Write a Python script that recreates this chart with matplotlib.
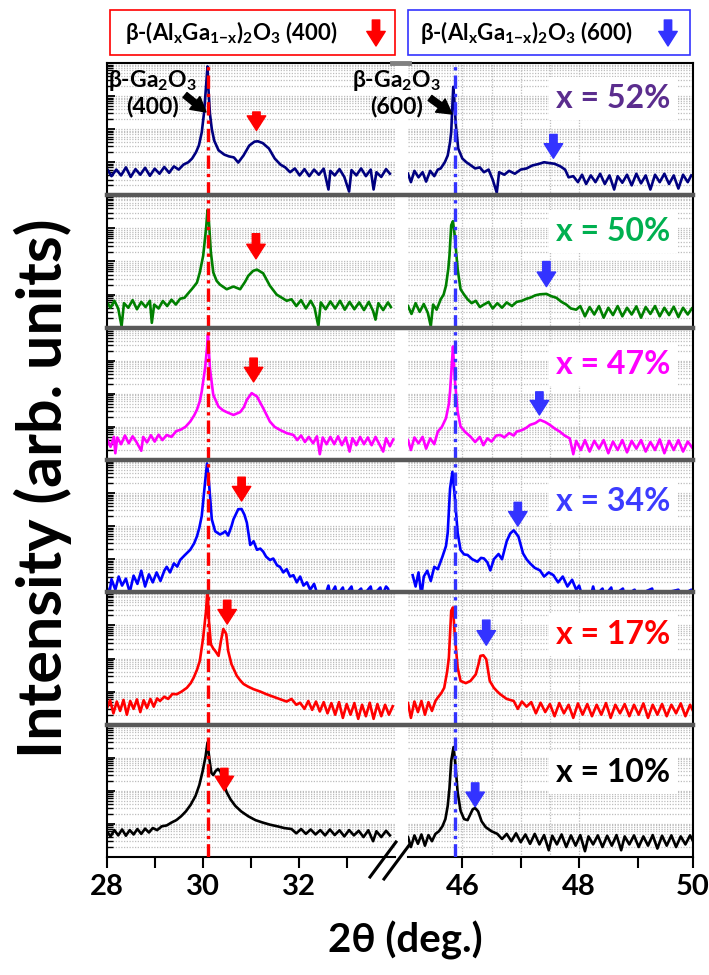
import matplotlib
matplotlib.use("Agg")
import numpy as np
import matplotlib.pyplot as plt
from matplotlib.lines import Line2D
from matplotlib.patches import Rectangle, FancyArrowPatch
from matplotlib.ticker import LogLocator, NullFormatter

plt.rcParams['font.family'] = ['Lato', 'DejaVu Sans']
plt.rcParams['font.weight'] = 'bold'
plt.rcParams['mathtext.default'] = 'regular'

# ---- data: (2theta, counts) ----
pts_52_400 = [(28.00, 6.5), (28.10, 3.8), (28.20, 6.0), (28.30, 4.0), (28.40, 7.0), (28.50, 3.6), (28.60, 6.2),
              (28.70, 4.2), (28.80, 6.8), (28.90, 3.9), (29.00, 6.4), (29.10, 4.5), (29.20, 7.2), (29.30, 4.8),
              (29.40, 7.5), (29.50, 6.0), (29.60, 8.5), (29.70, 10), (29.78, 13), (29.86, 20), (29.92, 32),
              (29.98, 80), (30.03, 330), (30.07, 2000), (30.10, 7900), (30.12, 1600), (30.15, 300), (30.19, 100),
              (30.24, 45), (30.33, 23), (30.45, 17), (30.55, 15), (30.65, 14), (30.74, 9.8), (30.85, 16),
              (30.97, 32), (31.08, 42), (31.15, 43), (31.25, 38), (31.38, 26), (31.50, 13), (31.62, 8.5),
              (31.72, 7.0), (31.82, 5.0), (31.92, 6.5), (32.02, 4.0), (32.12, 6.2), (32.22, 3.8), (32.32, 6.0),
              (32.42, 4.2), (32.52, 6.4), (32.62, 1.5), (32.66, 5.5), (32.75, 4.0), (32.85, 6.2), (32.95, 3.6),
              (33.05, 1.3), (33.10, 5.8), (33.20, 4.0), (33.30, 6.5), (33.40, 3.8), (33.50, 6.0), (33.56, 1.5),
              (33.62, 5.0), (33.72, 3.6), (33.82, 6.2), (33.90, 4.5)]
pts_52_600 = [(45.07, 4.5), (45.12, 2.5), (45.18, 5.5), (45.25, 3.5), (45.32, 5.0), (45.38, 2.6), (45.45, 5.5),
              (45.52, 3.8), (45.58, 6.0), (45.63, 6.5), (45.70, 10), (45.75, 16), (45.79, 40), (45.81, 83),
              (45.83, 520), (45.845, 1900), (45.86, 900), (45.89, 130), (45.93, 26), (46.00, 13), (46.07, 10),
              (46.14, 8.2), (46.22, 6.5), (46.30, 7.0), (46.37, 5.0), (46.45, 6.0), (46.52, 3.0), (46.59, 1.2),
              (46.63, 5.0), (46.72, 4.2), (46.80, 5.5), (46.90, 4.5), (47.00, 6.0), (47.10, 6.5), (47.20, 8.0),
              (47.30, 8.8), (47.40, 10), (47.48, 9.5), (47.58, 9.0), (47.68, 7.5), (47.76, 6.0), (47.82, 3.5),
              (47.90, 3.8), (47.98, 2.5), (48.05, 4.2), (48.12, 2.2), (48.20, 4.0), (48.28, 2.5), (48.36, 4.5),
              (48.44, 2.2), (48.52, 4.0), (48.60, 1.5), (48.66, 3.8), (48.74, 2.4), (48.82, 4.2), (48.90, 2.0),
              (48.98, 4.5), (49.06, 2.3), (49.14, 4.0), (49.22, 1.5), (49.30, 4.2), (49.38, 2.5), (49.46, 4.5),
              (49.54, 2.2), (49.62, 4.0), (49.70, 1.6), (49.78, 4.2), (49.86, 2.5), (49.92, 4.0)]

pts_50_400 = [(28.00, 6.0), (28.08, 4.0), (28.16, 6.5), (28.24, 3.8), (28.31, 1.1), (28.36, 5.5), (28.45, 4.0),
              (28.54, 6.8), (28.63, 3.6), (28.72, 6.0), (28.81, 4.2), (28.90, 6.5), (28.94, 1.4), (28.99, 5.0),
              (29.08, 3.8), (29.17, 6.4), (29.26, 4.5), (29.35, 7.0), (29.44, 5.0), (29.53, 7.5), (29.62, 8.0),
              (29.70, 11), (29.78, 15), (29.88, 23), (29.94, 47), (30.01, 150), (30.07, 980), (30.10, 3600),
              (30.13, 1580), (30.17, 190), (30.22, 47), (30.29, 26), (30.36, 20), (30.50, 14.5), (30.64, 17.5),
              (30.78, 14.5), (30.88, 24), (30.95, 37), (31.05, 52), (31.13, 57), (31.26, 44), (31.40, 18.5),
              (31.54, 10), (31.65, 8.0), (31.75, 6.5), (31.85, 7.2), (31.95, 4.5), (32.05, 6.8), (32.15, 3.8),
              (32.25, 6.5), (32.33, 4.0), (32.41, 1.1), (32.46, 5.8), (32.56, 3.6), (32.66, 6.2), (32.76, 3.8),
              (32.86, 6.5), (32.96, 3.5), (33.06, 6.0), (33.16, 3.6), (33.26, 5.8), (33.36, 3.4), (33.46, 6.0),
              (33.55, 3.2), (33.60, 1.75), (33.66, 5.5), (33.76, 3.4), (33.86, 5.8), (33.92, 4.2)]
pts_50_600 = [(45.07, 4.5), (45.13, 2.6), (45.20, 5.5), (45.27, 3.0), (45.34, 5.2), (45.41, 2.8), (45.46, 1.1),
              (45.50, 5.0), (45.56, 3.5), (45.63, 7.2), (45.68, 10), (45.72, 18.5), (45.76, 60), (45.78, 150),
              (45.81, 1250), (45.84, 1650), (45.87, 610), (45.92, 59), (45.97, 14.5), (46.03, 10), (46.09, 7.2),
              (46.16, 5.5), (46.23, 6.5), (46.30, 4.2), (46.37, 5.0), (46.45, 6.0), (46.52, 3.8), (46.60, 5.5),
              (46.68, 4.0), (46.76, 5.8), (46.85, 4.5), (46.93, 6.0), (47.02, 6.5), (47.10, 7.5), (47.16, 8.0),
              (47.25, 9.5), (47.33, 10.2), (47.44, 10.5), (47.52, 9.0), (47.61, 8.0), (47.70, 6.0), (47.78, 5.0),
              (47.86, 3.8), (47.95, 3.5), (48.02, 4.5), (48.10, 2.2), (48.18, 4.2), (48.26, 2.5), (48.34, 4.5),
              (48.42, 2.0), (48.50, 4.0), (48.58, 2.4), (48.66, 4.5), (48.74, 2.2), (48.82, 4.0), (48.90, 2.5),
              (48.98, 4.4), (49.06, 2.0), (49.14, 4.2), (49.22, 2.6), (49.30, 4.5), (49.38, 2.2), (49.46, 4.0),
              (49.54, 2.4), (49.62, 4.3), (49.70, 2.1), (49.78, 4.0), (49.86, 2.5), (49.93, 3.8)]

pts_47_400 = [(28.00, 4.5), (28.08, 2.5), (28.15, 5.0), (28.18, 1.6), (28.22, 4.8), (28.30, 3.0), (28.38, 5.5),
              (28.46, 3.2), (28.54, 5.2), (28.62, 3.5), (28.72, 1.9), (28.76, 5.0), (28.84, 3.4), (28.92, 5.6),
              (29.00, 3.6), (29.08, 5.8), (29.16, 4.0), (29.25, 5.7), (29.35, 5.0), (29.45, 7.5), (29.53, 8.1),
              (29.64, 10), (29.74, 14.5), (29.82, 22), (29.88, 33), (29.94, 60), (29.98, 118), (30.05, 600),
              (30.09, 2450), (30.11, 6200), (30.15, 600), (30.22, 93), (30.33, 41), (30.42, 32), (30.50, 28),
              (30.64, 23), (30.78, 28), (30.86, 40), (30.92, 66), (31.02, 105), (31.13, 83), (31.26, 37),
              (31.40, 14.5), (31.50, 10), (31.61, 8.1), (31.75, 6.5), (31.89, 5.7), (31.97, 4.0), (32.05, 5.5),
              (32.13, 3.5), (32.21, 5.0), (32.30, 3.2), (32.38, 5.2), (32.44, 1.5), (32.50, 4.8), (32.58, 3.0),
              (32.66, 5.0), (32.74, 3.0), (32.82, 5.2), (32.90, 2.8), (32.98, 4.8), (33.06, 1.8), (33.12, 4.6),
              (33.20, 2.8), (33.28, 5.0), (33.36, 3.0), (33.44, 4.8), (33.52, 2.8), (33.60, 5.0), (33.68, 3.0),
              (33.76, 1.8), (33.82, 4.6), (33.90, 2.6), (33.97, 4.2)]
pts_47_600 = [(45.07, 4.0), (45.12, 2.0), (45.18, 4.8), (45.25, 3.2), (45.32, 5.0), (45.38, 2.2), (45.45, 4.5),
              (45.52, 3.0), (45.58, 7.2), (45.65, 10), (45.72, 18.3), (45.77, 50), (45.79, 118), (45.82, 760),
              (45.84, 2700), (45.87, 300), (45.92, 29), (45.97, 10.3), (46.05, 7.0), (46.14, 5.1), (46.22, 3.5),
              (46.30, 5.0), (46.36, 2.8), (46.43, 4.5), (46.50, 3.6), (46.58, 5.5), (46.65, 5.7), (46.72, 4.8),
              (46.80, 6.5), (46.88, 5.5), (46.93, 7.2), (47.02, 8.0), (47.10, 9.5), (47.16, 11.5), (47.25, 13),
              (47.33, 16.3), (47.42, 14), (47.50, 11.5), (47.58, 9.0), (47.67, 7.2), (47.75, 5.5), (47.84, 4.5),
              (47.90, 1.5), (47.95, 3.8), (48.03, 2.0), (48.10, 4.0), (48.18, 1.8), (48.26, 3.8), (48.34, 2.2),
              (48.42, 4.0), (48.50, 1.6), (48.58, 3.6), (48.66, 2.0), (48.74, 4.0), (48.82, 1.7), (48.90, 3.8),
              (48.98, 2.2), (49.06, 4.0), (49.14, 1.8), (49.22, 3.5), (49.30, 2.0), (49.38, 4.2), (49.46, 1.6),
              (49.54, 3.8), (49.62, 2.0), (49.70, 4.0), (49.78, 1.8), (49.86, 3.6), (49.95, 2.2)]

pts_34_400 = [(28.00, 1.5), (28.05, 0.8), (28.10, 2.5), (28.18, 1.2), (28.25, 3.0), (28.32, 1.6), (28.40, 2.6),
              (28.48, 1.0), (28.56, 3.2), (28.64, 1.8), (28.72, 4.5), (28.80, 1.5), (28.88, 3.5), (28.96, 2.0),
              (29.04, 4.0), (29.12, 2.2), (29.20, 4.5), (29.25, 5.9), (29.32, 4.0), (29.40, 7.5), (29.47, 6.0),
              (29.53, 9.5), (29.62, 13), (29.74, 19.3), (29.82, 30), (29.88, 49), (29.93, 90), (29.98, 203),
              (30.05, 2150), (30.09, 7900), (30.13, 2150), (30.19, 160), (30.26, 70), (30.36, 56), (30.42, 62),
              (30.47, 70), (30.53, 52), (30.60, 100), (30.64, 160), (30.74, 325), (30.81, 330), (30.87, 220),
              (30.92, 127), (30.99, 27), (31.03, 31), (31.06, 35), (31.13, 19.3), (31.20, 21), (31.26, 17),
              (31.32, 12), (31.40, 9.5), (31.47, 10.5), (31.55, 6.5), (31.61, 5.9), (31.68, 4.0), (31.75, 5.0),
              (31.82, 3.0), (31.89, 3.3), (31.96, 2.0), (32.03, 3.0), (32.10, 1.6), (32.17, 2.0), (32.24, 1.2),
              (32.32, 1.8), (32.40, 0.8), (32.55, 0.8), (32.62, 1.6), (32.66, 0.8), (32.76, 1.5), (32.80, 0.8),
              (32.92, 1.4), (32.96, 0.8), (33.10, 1.5), (33.14, 0.8), (33.30, 1.3), (33.34, 0.8), (33.50, 1.5),
              (33.54, 0.8), (33.70, 1.4), (33.74, 0.8), (33.82, 1.5), (33.86, 1.3), (33.90, 0.8)]
pts_34_600 = [(45.15, 3.3), (45.20, 1.5), (45.25, 4.0), (45.30, 0.8), (45.34, 3.0), (45.40, 4.5), (45.46, 2.2),
              (45.52, 5.9), (45.58, 5.0), (45.66, 12), (45.72, 25), (45.75, 63), (45.79, 1350), (45.83, 4400),
              (45.87, 840), (45.92, 63), (45.97, 19), (46.03, 14), (46.09, 13.5), (46.17, 10), (46.26, 8.4),
              (46.32, 11), (46.37, 10.6), (46.43, 8.0), (46.48, 4.6), (46.54, 10), (46.62, 14.4), (46.68, 10),
              (46.76, 35), (46.82, 60), (46.88, 75), (46.96, 49), (47.04, 15), (47.10, 10), (47.16, 7.5),
              (47.24, 5.5), (47.33, 4.6), (47.40, 3.0), (47.48, 4.0), (47.56, 3.3), (47.64, 2.0), (47.72, 3.0),
              (47.80, 1.5), (47.88, 2.4), (47.95, 1.2), (48.00, 1.6), (48.05, 0.8), (48.20, 0.8), (48.24, 1.5),
              (48.28, 0.8), (48.40, 1.3), (48.44, 0.8), (48.55, 1.4), (48.58, 0.8), (48.75, 1.3), (48.78, 0.8),
              (48.95, 1.2), (48.98, 0.8), (49.25, 1.3), (49.28, 0.8), (49.70, 1.2), (49.74, 0.8), (49.92, 1.2),
              (49.95, 0.8)]

pts_17_400 = [(28.00, 3.0), (28.07, 5.5), (28.14, 2.2), (28.21, 5.0), (28.28, 2.6), (28.35, 5.6), (28.42, 2.0),
              (28.49, 5.2), (28.56, 3.0), (28.63, 5.8), (28.70, 2.4), (28.77, 5.5), (28.84, 3.2), (28.91, 6.0),
              (28.98, 3.5), (29.05, 6.2), (29.11, 5.2), (29.20, 7.0), (29.28, 6.0), (29.37, 8.5), (29.46, 8.3),
              (29.56, 10), (29.67, 13), (29.75, 18), (29.81, 26), (29.88, 45), (29.94, 85), (30.01, 430),
              (30.07, 2800), (30.10, 14000), (30.13, 1400), (30.17, 270), (30.22, 200), (30.26, 170), (30.33, 120),
              (30.38, 340), (30.43, 780), (30.49, 550), (30.53, 170), (30.60, 67), (30.71, 30), (30.78, 22),
              (30.85, 17), (30.95, 14), (31.06, 11.8), (31.20, 10), (31.33, 8.3), (31.47, 7.0), (31.61, 5.9),
              (31.75, 5.0), (31.85, 6.0), (31.95, 4.0), (32.03, 4.6), (32.12, 3.0), (32.20, 5.2), (32.28, 2.8),
              (32.36, 5.0), (32.44, 2.5), (32.52, 4.8), (32.60, 2.2), (32.68, 4.5), (32.76, 2.0), (32.84, 4.8),
              (32.92, 1.6), (33.00, 4.2), (33.08, 2.0), (33.16, 4.5), (33.24, 1.5), (33.32, 4.0), (33.40, 1.8),
              (33.48, 4.6), (33.56, 1.5), (33.64, 4.2), (33.72, 1.8), (33.80, 4.0), (33.88, 2.0), (33.96, 3.6)]
pts_17_600 = [(45.07, 4.5), (45.12, 1.6), (45.18, 5.0), (45.24, 2.4), (45.30, 5.2), (45.36, 2.0), (45.42, 4.8),
              (45.48, 2.6), (45.54, 5.2), (45.58, 6.6), (45.64, 9.0), (45.69, 13), (45.74, 40), (45.77, 107),
              (45.81, 2800), (45.84, 3500), (45.87, 550), (45.92, 53), (45.97, 21), (46.06, 18), (46.14, 21),
              (46.23, 33), (46.28, 70), (46.31, 120), (46.36, 125), (46.41, 95), (46.47, 21), (46.54, 13),
              (46.60, 10), (46.65, 8.3), (46.76, 6.0), (46.88, 5.2), (46.95, 3.0), (47.02, 5.0), (47.10, 3.5),
              (47.18, 4.8), (47.26, 2.2), (47.34, 4.6), (47.42, 2.4), (47.50, 4.2), (47.58, 1.8), (47.66, 4.5),
              (47.74, 2.2), (47.82, 4.0), (47.90, 1.6), (47.98, 4.4), (48.06, 2.0), (48.14, 4.2), (48.22, 1.8),
              (48.30, 4.0), (48.38, 2.0), (48.46, 4.5), (48.54, 1.6), (48.62, 4.0), (48.70, 2.2), (48.78, 4.2),
              (48.86, 1.8), (48.94, 4.0), (49.02, 2.0), (49.10, 4.4), (49.18, 1.6), (49.26, 4.0), (49.34, 2.0),
              (49.42, 4.2), (49.50, 1.8), (49.58, 4.0), (49.66, 2.2), (49.74, 4.4), (49.82, 1.8), (49.90, 4.0),
              (49.96, 2.4)]

pts_10_400 = [(28.00, 6.0), (28.08, 4.2), (28.16, 6.5), (28.24, 4.5), (28.32, 6.8), (28.40, 4.4), (28.48, 6.5),
              (28.56, 4.8), (28.64, 7.0), (28.72, 5.0), (28.80, 7.2), (28.88, 5.5), (28.96, 7.5), (29.05, 6.5),
              (29.15, 8.5), (29.25, 9.0), (29.35, 11), (29.45, 13), (29.55, 17), (29.65, 24), (29.75, 38),
              (29.85, 70), (29.93, 150), (30.00, 400), (30.06, 1100), (30.10, 2900), (30.14, 900), (30.18, 350),
              (30.22, 300), (30.27, 400), (30.32, 460), (30.37, 380), (30.43, 180), (30.50, 90), (30.58, 55),
              (30.68, 35), (30.80, 24), (30.95, 17), (31.10, 13), (31.25, 11), (31.40, 9.5), (31.55, 8.5),
              (31.70, 7.5), (31.85, 7.0), (31.95, 5.2), (32.05, 7.0), (32.15, 5.0), (32.25, 6.8), (32.35, 4.8),
              (32.45, 6.5), (32.55, 4.5), (32.65, 6.8), (32.75, 4.6), (32.85, 6.4), (32.95, 4.2), (33.05, 6.5),
              (33.15, 4.5), (33.25, 6.2), (33.35, 4.0), (33.45, 6.4), (33.55, 3.0), (33.62, 6.0), (33.72, 4.0),
              (33.82, 6.2), (33.90, 4.5)]
pts_10_600 = [(45.07, 4.0), (45.12, 2.0), (45.18, 4.5), (45.24, 2.5), (45.30, 4.8), (45.36, 2.2), (45.42, 4.6),
              (45.48, 3.0), (45.54, 5.0), (45.60, 6.0), (45.66, 8.5), (45.71, 14), (45.75, 35), (45.78, 120),
              (45.81, 800), (45.85, 2100), (45.88, 700), (45.92, 90), (45.97, 25), (46.03, 14), (46.09, 13),
              (46.14, 20), (46.18, 28), (46.22, 30), (46.27, 24), (46.33, 12), (46.40, 8), (46.50, 6.0),
              (46.60, 5.0), (46.68, 3.5), (46.76, 5.0), (46.84, 3.0), (46.92, 5.2), (47.00, 2.8), (47.08, 4.8),
              (47.16, 2.5), (47.24, 5.0), (47.32, 2.4), (47.40, 4.6), (47.48, 1.6), (47.54, 4.4), (47.62, 2.4),
              (47.70, 4.8), (47.78, 2.0), (47.86, 4.5), (47.94, 2.2), (48.02, 4.6), (48.10, 1.5), (48.16, 4.2),
              (48.24, 2.4), (48.32, 4.5), (48.40, 2.0), (48.48, 4.4), (48.56, 2.2), (48.64, 4.6), (48.72, 1.6),
              (48.78, 4.2), (48.86, 2.4), (48.94, 4.5), (49.02, 2.0), (49.10, 4.2), (49.18, 2.2), (49.26, 4.6),
              (49.34, 1.8), (49.42, 4.4), (49.50, 2.2), (49.58, 4.5), (49.66, 2.0), (49.74, 4.2), (49.82, 2.4),
              (49.90, 4.5), (49.96, 2.8)]

compositions = ["x = 52%", "x = 50%", "x = 47%", "x = 34%", "x = 17%", "x = 10%"]
curves_400 = [pts_52_400, pts_50_400, pts_47_400, pts_34_400, pts_17_400, pts_10_400]
curves_600 = [pts_52_600, pts_50_600, pts_47_600, pts_34_600, pts_17_600, pts_10_600]
line_colors = ["#000080", "#008000", "#ff00ff", "#0000ff", "#ff0000", "#000000"]
label_colors = ["#5b2d8e", "#00b050", "#ff00ff", "#3c3cff", "#ff0000", "#000000"]
# alloy peak arrows: 2theta position
arrow_400 = [31.12, 31.11, 31.06, 30.81, 30.51, 30.45]
arrow_600 = [47.56, 47.44, 47.32, 46.95, 46.41, 46.22]
ga2o3_400 = 30.10
ga2o3_600 = 45.88

# ---- layout (pixels of the 709x975 picture) ----
W, H = 709, 975
fig = plt.figure(figsize=(W / 100, H / 100), dpi=100)
top_px, bot_px = 63, 857
row_h = (bot_px - top_px) / 6
L0, L1 = 106.7, 394.7
R0, R1 = 408, 693

def fx(px):
    return px / W

def fy(py):
    return 1 - py / H

red = "#ff0000"
blue = "#3333ff"
gridc = '#bdbdbd'
dashdot = (0, (4, 1.5, 1, 1.5))
astyle = "simple,head_length=0.75,head_width=0.95,tail_width=0.38"

# arrow y positions (axes fraction) for each row
arr_y_400 = [(0.63, 0.49), (0.71, 0.52), (0.77, 0.59), (0.87, 0.69), (0.94, 0.76), (0.67, 0.50)]
arr_y_600 = [(0.46, 0.28), (0.50, 0.31), (0.515, 0.34), (0.68, 0.50), (0.79, 0.60), (0.56, 0.38)]
lab_y = [0.73, 0.73, 0.72, 0.69, 0.68, 0.64]

for i in range(6):
    y0 = fy(top_px + (i + 1) * row_h)
    h = row_h / H
    axL = fig.add_axes([fx(L0), y0, fx(L1 - L0), h])
    axR = fig.add_axes([fx(R0), y0, fx(R1 - R0), h])

    for ax, pts, xl in [(axL, curves_400[i], (28, 34)), (axR, curves_600[i], (45.07, 49.95))]:
        xs = [p[0] for p in pts]
        ys = [p[1] for p in pts]
        ax.plot(xs, ys, color=line_colors[i], lw=1.9, zorder=2)
        ax.set_yscale('log')
        ax.set_ylim(1, 1e4)
        ax.set_xlim(*xl)
        ax.yaxis.set_major_locator(LogLocator(base=10, numticks=12))
        ax.yaxis.set_minor_locator(LogLocator(base=10, subs=np.arange(2, 10) * 1.0, numticks=12))
        ax.yaxis.set_minor_formatter(NullFormatter())
        ax.grid(axis='y', which='both', ls=(0, (1, 1.2)), color=gridc, lw=0.9)
        ax.set_facecolor('none')
        for s in ['top', 'bottom', 'left', 'right']:
            ax.spines[s].set_visible(False)
        ax.tick_params(axis='y', which='both', left=False, right=False, labelleft=False)
        ax.tick_params(axis='x', which='both', bottom=False, labelbottom=False)

    axL.spines['left'].set_visible(True)
    axL.spines['left'].set_linewidth(1.5)
    axL.tick_params(axis='y', which='major', left=True, direction='in', length=6, width=1.3)
    axL.tick_params(axis='y', which='minor', left=True, direction='in', length=4, width=1.0)
    axR.spines['right'].set_visible(True)
    axR.spines['right'].set_linewidth(1.5)
    for gx in [46, 46.5, 47, 47.5, 48]:
        axR.axvline(gx, ls=(0, (1, 1.2)), color=gridc, lw=0.9, zorder=0)

    axL.axvline(ga2o3_400, color=red, lw=2.4, ls=dashdot, zorder=3)
    axR.axvline(ga2o3_600, color=blue, lw=2.4, ls=dashdot, zorder=3)

    axL.annotate('', xy=(arrow_400[i], arr_y_400[i][1]), xycoords=('data', 'axes fraction'),
                 xytext=(arrow_400[i], arr_y_400[i][0]), textcoords=('data', 'axes fraction'),
                 arrowprops=dict(arrowstyle=astyle, color=red, shrinkA=0, shrinkB=0, mutation_scale=14))
    axR.annotate('', xy=(arrow_600[i], arr_y_600[i][1]), xycoords=('data', 'axes fraction'),
                 xytext=(arrow_600[i], arr_y_600[i][0]), textcoords=('data', 'axes fraction'),
                 arrowprops=dict(arrowstyle=astyle, color=blue, shrinkA=0, shrinkB=0, mutation_scale=14))

    axR.text(0.72, lab_y[i], compositions[i], transform=axR.transAxes, ha='center', va='center',
             fontsize=23, fontweight='bold', color=label_colors[i], zorder=5,
             bbox=dict(fc='white', ec='none', pad=5))

    if i == 5:
        axL.spines['bottom'].set_visible(True)
        axR.spines['bottom'].set_visible(True)
        axL.spines['bottom'].set_linewidth(1.5)
        axR.spines['bottom'].set_linewidth(1.5)
        axL.set_xticks([28, 29, 30, 31, 32, 33])
        axL.set_xticklabels(['28', '', '30', '', '32', ''])
        # the 50 tick sits on the right frame edge
        axR.set_xticks([46, 47, 48, 49, 49.95])
        axR.set_xticklabels(['46', '', '48', '', '50'])
        for ax in (axL, axR):
            ax.tick_params(axis='x', which='major', bottom=True, labelbottom=True, direction='out',
                           length=8, width=1.5, labelsize=21, pad=4)

    if i == 0:
        axL.text(0.158, 0.775, 'β-Ga$_2$O$_3$\n(400)', transform=axL.transAxes, ha='center', va='center',
                 fontsize=16.5, fontweight='bold', linespacing=1.15, zorder=5)
        axR.text(-0.04, 0.775, 'β-Ga$_2$O$_3$\n(600)', transform=axR.transAxes, ha='center', va='center',
                 fontsize=16.5, fontweight='bold', linespacing=1.15, zorder=5)

# black arrows to the Ga2O3 peaks
for (x0, y0_, x1, y1) in [(185, 95, 206, 112), (430, 98, 452, 114)]:
    fig.add_artist(FancyArrowPatch((fx(x0), fy(y0_)), (fx(x1), fy(y1)), transform=fig.transFigure,
                                   arrowstyle="simple,head_length=0.8,head_width=0.9,tail_width=0.35",
                                   color='black', mutation_scale=13, shrinkA=0, shrinkB=0, zorder=6))

# row separators and frame top
for i in range(1, 6):
    yy = fy(top_px + i * row_h)
    fig.add_artist(Line2D([fx(L0), fx(R1)], [yy, yy], color='#595959', lw=3.2, transform=fig.transFigure))
fig.add_artist(Line2D([fx(L0), fx(R1)], [fy(top_px), fy(top_px)], color='black', lw=1.5, transform=fig.transFigure))
fig.add_artist(Line2D([fx(L1 - 3), fx(R0 + 1)], [fy(top_px), fy(top_px)], color='#808080', lw=3.5,
                      transform=fig.transFigure))

# axis break marks
for (x0, y0_, x1, y1) in [(370, 877, 396, 842), (384, 879, 410, 844)]:
    fig.add_artist(Line2D([fx(x0), fx(x1)], [fy(y0_), fy(y1)], color='black', lw=2.2, transform=fig.transFigure))

# legend boxes on top
fig.add_artist(Rectangle((fx(110), fy(55)), fx(285), 45 / H, transform=fig.transFigure,
                         fc='white', ec=red, lw=1.2))
fig.add_artist(Rectangle((fx(408), fy(55)), fx(282), 45 / H, transform=fig.transFigure,
                         fc='white', ec=blue, lw=1.2))
fig.text(fx(125), fy(32), 'β-(Al$_x$Ga$_{1{-}x}$)$_2$O$_3$ (400)', ha='left', va='center', fontsize=16,
         fontweight='bold')
fig.text(fx(420), fy(32), 'β-(Al$_x$Ga$_{1{-}x}$)$_2$O$_3$ (600)', ha='left', va='center', fontsize=16,
         fontweight='bold')
for (xa, col) in [(376, red), (668, blue)]:
    fig.add_artist(FancyArrowPatch((fx(xa), fy(20)), (fx(xa), fy(46)), transform=fig.transFigure,
                                   arrowstyle=astyle, color=col, mutation_scale=14, shrinkA=0, shrinkB=0))

fig.text(fx(43), fy(488), 'Intensity (arb. units)', rotation=90, ha='center', va='center',
         fontsize=44, fontweight='bold')
fig.text(fx(405), fy(940), '2θ (deg.)', ha='center', va='center', fontsize=29, fontweight='bold')

fig.savefig('out.png', dpi=100)
